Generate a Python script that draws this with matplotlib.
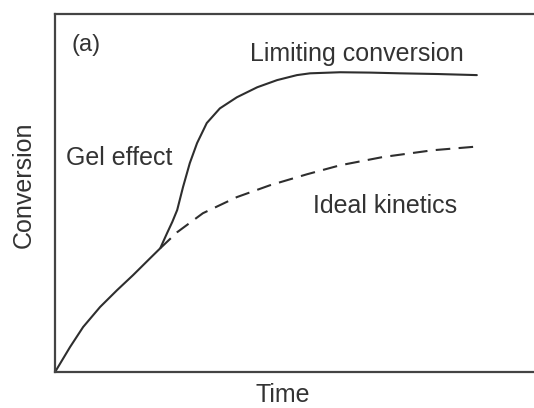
import matplotlib
matplotlib.use('Agg')
import matplotlib.pyplot as plt

plt.rcParams['font.family'] = ['Liberation Sans', 'DejaVu Sans']

# gel effect curve (solid)
t_gel = [0, 0.31, 0.58, 0.93, 1.28, 1.61, 1.96, 2.17, 2.31, 2.42, 2.52, 2.64, 2.78,
         2.93, 3.13, 3.40, 3.75, 4.17, 4.58, 4.99, 5.26, 5.88, 6.5, 7.11, 7.9, 8.7]
x_gel = [0, 0.070, 0.126, 0.182, 0.229, 0.271, 0.318, 0.346, 0.388, 0.420, 0.453,
         0.517, 0.584, 0.640, 0.696, 0.737, 0.768, 0.796, 0.816, 0.830, 0.835,
         0.838, 0.837, 0.835, 0.833, 0.830]

# ideal kinetics (dashed)
t_ideal = [2.17, 2.52, 3.05, 3.75, 4.43, 5.20, 5.88, 6.76, 7.79, 8.76]
x_ideal = [0.346, 0.391, 0.444, 0.489, 0.522, 0.553, 0.578, 0.601, 0.620, 0.631]

fig = plt.figure(figsize=(5.34, 4.08), dpi=100)
ax = fig.add_axes([0.103, 0.088, 0.908, 0.877])

lc = '#2e2e2e'
ax.plot(t_gel, x_gel, color=lc, lw=1.5, solid_joinstyle='round', solid_capstyle='round')
ax.plot(t_ideal, x_ideal, color=lc, lw=1.5, linestyle=(0, (7, 4)),
        dash_joinstyle='round')

ax.set_xlim(0, 10)
ax.set_ylim(0, 1)
ax.set_xticks([])
ax.set_yticks([])
for s in ax.spines.values():
    s.set_linewidth(1.6)
    s.set_color('#444444')

tc = '#333333'
ax.text(0.35, 0.913, '(a)', fontsize=17, color=tc, va='center', ha='left')
ax.text(4.02, 0.869, 'Limiting conversion', fontsize=18, color=tc, va='baseline', ha='left')
ax.text(0.23, 0.578, 'Gel effect', fontsize=18, color=tc, va='baseline', ha='left')
ax.text(5.32, 0.444, 'Ideal kinetics', fontsize=18, color=tc, va='baseline', ha='left')

fig.text(283 / 534, 1 - 402 / 408, 'Time', fontsize=18, color=tc, ha='center', va='baseline')
fig.text(24 / 534, 1 - 185 / 408, 'Conversion', fontsize=18, color=tc, ha='center',
         va='center', rotation=90)

fig.savefig('out.png', dpi=100)
